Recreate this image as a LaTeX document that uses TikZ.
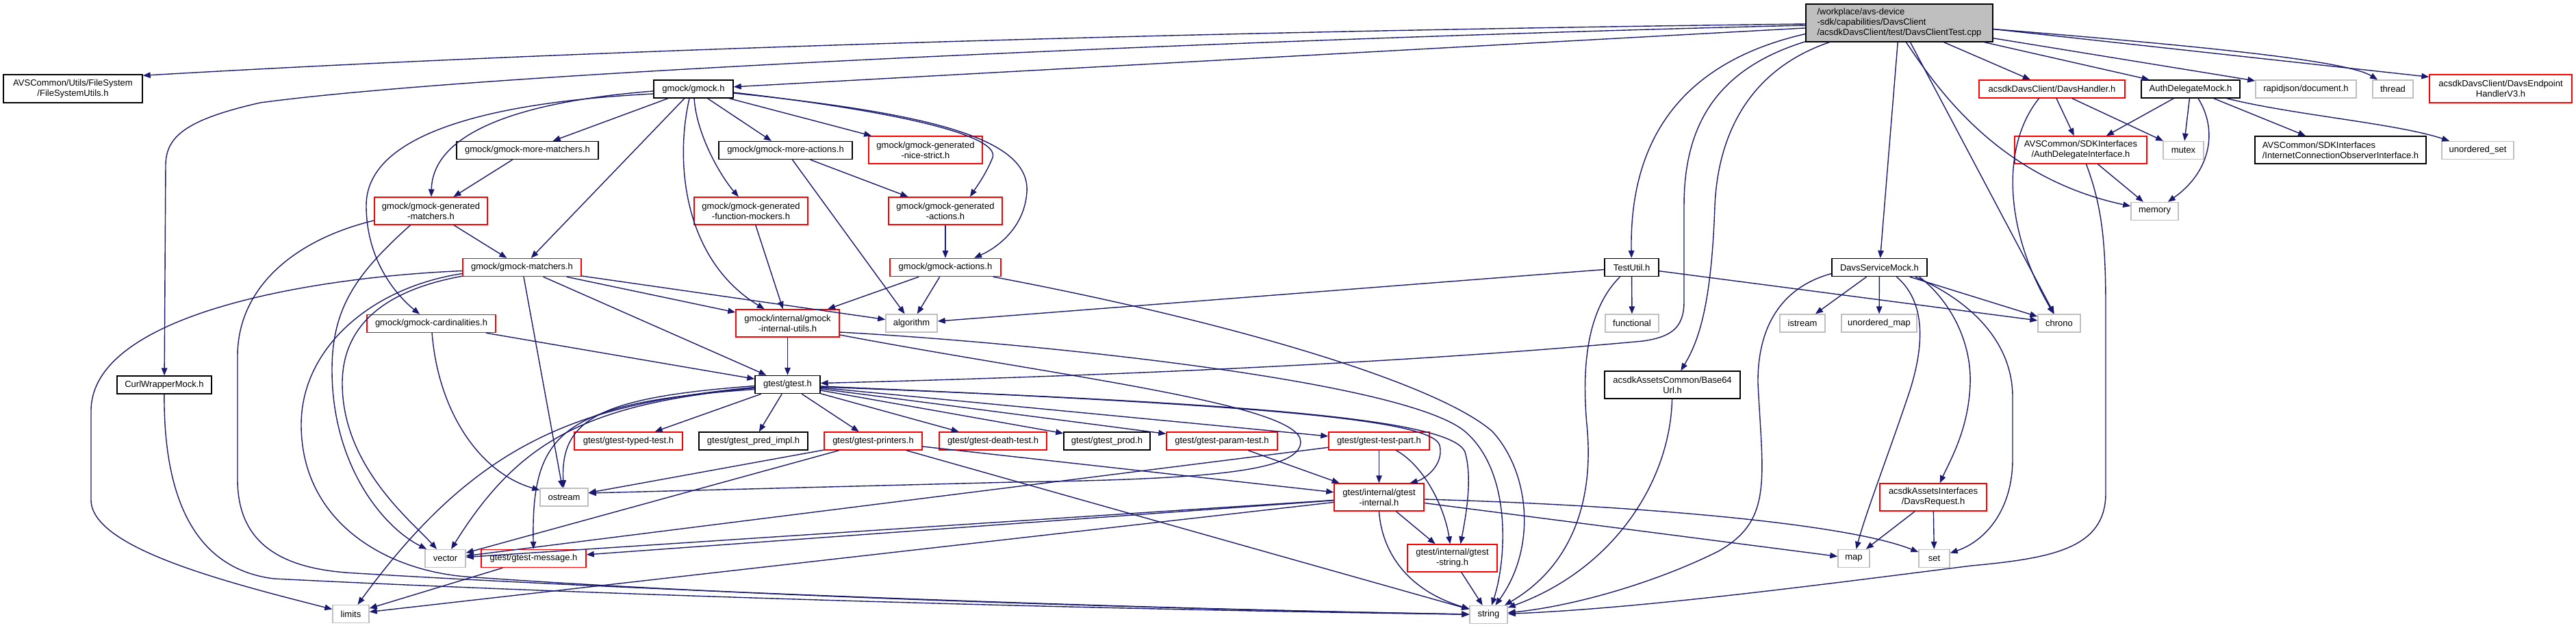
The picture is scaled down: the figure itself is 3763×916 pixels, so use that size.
\documentclass[tikz,border=0pt]{standalone}
\usepackage{fontspec}
\setmainfont{Liberation Sans}
\usetikzlibrary{arrows.meta,calc}
\definecolor{ec}{HTML}{191970}
\definecolor{gr}{HTML}{BFBFBF}
\definecolor{rd}{HTML}{FF0000}
\begin{document}
\begin{tikzpicture}[x=1pt,y=-1pt,
  nd/.style={draw, line width=1.4pt, inner sep=0pt, fill=white, text=black,
     font={\fontsize{13pt}{15pt}\selectfont}, align=center},
  rn/.style={nd, draw=rd},
  bn/.style={nd, draw=black},
  gn/.style={nd, draw=gr},
  sz/.style 2 args={minimum width=#1pt, minimum height=#2pt},
  ed/.style={draw=ec, line width=1.4pt, -{Triangle[length=11pt,width=8.5pt]}}]
\useasboundingbox (0,0) rectangle (3763,916);
\fill[white] (0,0) rectangle (3763,916);
% ---------------- nodes ----------------
\node[bn, fill=gr, sz={273}{55}, align=left] (M) at (2774.5,33.5) {/workplace/avs-device\\-sdk/capabilities/DavsClient\\/acsdkDavsClient/test/DavsClientTest.cpp};
\node[bn, sz={203}{41}] (FSU) at (106.5,129.5) {AVSCommon/Utils/FileSystem\\/FileSystemUtils.h};
\node[bn, sz={116}{26}] (gmockh) at (1013,130) {gmock/gmock.h};
\node[rn, sz={213}{26}] (dh) at (2997.5,130) {acsdkDavsClient/DavsHandler.h};
\node[bn, sz={144}{26}] (adm) at (3200,130) {AuthDelegateMock.h};
\node[gn, sz={147}{26}] (rj) at (3368.5,130) {rapidjson/document.h};
\node[gn, sz={59}{26}] (thread) at (3495.5,130) {thread};
\node[rn, sz={208}{41}] (ep) at (3653,129.5) {acsdkDavsClient/DavsEndpoint\\HandlerV3.h};
\node[bn, sz={207}{26}] (moremat) at (770.5,219.5) {gmock/gmock-more-matchers.h};
\node[bn, sz={195}{26}] (moreact) at (1147.5,219.5) {gmock/gmock-more-actions.h};
\node[rn, sz={166}{40}] (nice) at (1352,219) {gmock/gmock-generated\\-nice-strict.h};
\node[rn, sz={193}{40}] (adi) at (3039.5,219) {AVSCommon/SDKInterfaces\\/AuthDelegateInterface.h};
\node[gn, sz={59}{26}] (mutex) at (3189.5,219.5) {mutex};
\node[bn, sz={250}{40}, align=left] (icoi) at (3419,219) {AVSCommon/SDKInterfaces\\/InternetConnectionObserverInterface.h};
\node[gn, sz={105}{26}] (uset) at (3619.5,219.5) {unordered\_set};
\node[rn, sz={165}{40}] (genmat) at (629.5,308) {gmock/gmock-generated\\-matchers.h};
\node[rn, sz={166}{40}] (funcmock) at (1097,308) {gmock/gmock-generated\\-function-mockers.h};
\node[rn, sz={166}{40}] (genact) at (1381,308) {gmock/gmock-generated\\-actions.h};
\node[gn, sz={69}{26}] (memory) at (3147.5,308.5) {memory};
\node[rn, sz={173}{26}] (gmat) at (762.5,390.5) {gmock/gmock-matchers.h};
\node[rn, sz={162}{26}] (gact) at (1381,390.5) {gmock/gmock-actions.h};
\node[bn, sz={79}{26}] (testutil) at (2383.5,390.5) {TestUtil.h};
\node[bn, sz={139}{26}] (dsm) at (2745.5,390.5) {DavsServiceMock.h};
\node[rn, sz={188}{26}] (card) at (630,472.5) {gmock/gmock-cardinalities.h};
\node[rn, sz={151}{40}] (giu) at (1150.5,472) {gmock/internal/gmock\\-internal-utils.h};
\node[gn, sz={75}{26}] (algo) at (1331.5,472) {algorithm};
\node[gn, sz={78}{26}] (func) at (2384,472) {functional};
\node[gn, sz={66}{26}] (istream) at (2633,472) {istream};
\node[gn, sz={110}{26}] (umap) at (2745,472) {unordered\_map};
\node[gn, sz={62}{26}] (chrono) at (3008,472) {chrono};
\node[bn, sz={138}{26}] (curl) at (240,562) {CurlWrapperMock.h};
\node[bn, sz={95}{26}] (gtesth) at (1150.5,561.5) {gtest/gtest.h};
\node[bn, sz={198}{40}] (b64) at (2443,562) {acsdkAssetsCommon/Base64\\Url.h};
\node[rn, sz={158}{26}] (typed) at (918,644) {gtest/gtest-typed-test.h};
\node[bn, sz={159}{26}] (pred) at (1100.5,644) {gtest/gtest\_pred\_impl.h};
\node[rn, sz={143}{26}] (printers) at (1275.5,644) {gtest/gtest-printers.h};
\node[rn, sz={157}{26}] (death) at (1450.5,644) {gtest/gtest-death-test.h};
\node[bn, sz={126}{26}] (prod) at (1617,644) {gtest/gtest\_prod.h};
\node[rn, sz={162}{26}] (param) at (1785,644) {gtest/gtest-param-test.h};
\node[rn, sz={147}{26}] (testpart) at (2014.5,644) {gtest/gtest-test-part.h};
\node[gn, sz={70}{26}] (ostream) at (824,726) {ostream};
\node[rn, sz={131}{40}] (gint) at (2014.5,726) {gtest/internal/gtest\\-internal.h};
\node[rn, sz={156}{40}] (dreq) at (2824,726) {acsdkAssetsInterfaces\\/DavsRequest.h};
\node[gn, sz={59}{26}] (vector) at (650.5,815.5) {vector};
\node[rn, sz={153}{26}] (gmsg) at (779.5,815.5) {gtest/gtest-message.h};
\node[rn, sz={131}{40}] (gstr) at (2121.5,815) {gtest/internal/gtest\\-string.h};
\node[gn, sz={46}{26}] (map) at (2708,815.5) {map};
\node[gn, sz={45}{26}] (set) at (2825.5,815.5) {set};
\node[gn, sz={53}{26}] (limits) at (512.5,896.5) {limits};
\node[gn, sz={55}{26}] (string) at (2174.5,897.5) {string};
% ---------------- edges: main file ----------------
\draw[ed] ($(M.west)+(0,1.5)$) .. controls (1800,45) and (900,70) .. ($(FSU.north east)+(0,2)$);
\draw[ed] ($(M.west)+(0,3.5)$) .. controls (2000,52) and (750,100) .. (380,150) .. controls (270,175) and (243,200) .. (242,240) -- (curl);
\draw[ed] (M) -- (gmockh);
\draw[ed] ($(M.west)+(0,16)$) .. controls (2460,90) and (2380,200) .. (testutil);
\draw[ed] ($(M.south west)+(0,-1)$) .. controls (2510,100) and (2460,180) .. (2460,300) -- (2460,440) .. controls (2460,480) and (2440,492) .. (2400,498) .. controls (2000,535) and (1500,552) .. ($(gtesth.east)+(0,-2)$);
\draw[ed] ($(M.south west)+(35,0)$) .. controls (2560,100) and (2510,190) .. (2505,300) .. controls (2500,450) and (2480,500) .. (b64);
\draw[ed] (M) -- (dsm);
\draw[ed] (M) -- (dh);
\draw[ed] (M) -- (adm);
\draw[ed] (M) -- (rj);
\draw[ed] ($(M.east)+(0,9)$) .. controls (3250,70) and (3430,90) .. (thread);
\draw[ed] ($(M.east)+(0,9)$) -- ($(ep.north west)+(0,4)$);
\draw[ed] ($(M.south)+(10,0)$) .. controls (2830,130) and (2920,260) .. (memory);
\draw[ed] ($(M.south)+(16,0)$) -- (chrono);
% ---------------- gmock.h ----------------
\draw[ed] (gmockh) -- (moremat);
\draw[ed] ($(gmockh.west)+(0,3)$) .. controls (740,150) and (632,200) .. (genmat);
\draw[ed] ($(gmockh.west)+(0,7)$) .. controls (700,150) and (535,200) .. (535,300) .. controls (535,390) and (590,440) .. (card);
\draw[ed] (gmockh) -- (gmat);
\draw[ed] (gmockh) -- (moreact);
\draw[ed] (gmockh) -- (nice);
\draw[ed] ($(gmockh.south)+(1,0)$) .. controls (1018,200) and (1055,260) .. (funcmock);
\draw[ed] ($(gmockh.south)+(-6,0)$) .. controls (985,240) and (1000,380) .. (giu);
\draw[ed] ($(gmockh.east)+(0,5)$) .. controls (1330,165) and (1460,200) .. (1450,230) .. controls (1440,255) and (1425,275) .. ($(genact.north)+(36,0)$);
\draw[ed] ($(gmockh.east)+(0,6)$) .. controls (1350,165) and (1505,200) .. (1500,280) .. controls (1497,330) and (1460,360) .. ($(gact.north)+(42,0)$);
% ---------------- gmock internals ----------------
\draw[ed] (moremat) -- (genmat);
\draw[ed] (genmat) -- (gmat);
\draw[ed] ($(genmat.west)+(0,14)$) .. controls (430,350) and (347,420) .. (347,520) -- (347,700) .. controls (347,800) and (420,832) .. (520,837) .. controls (900,860) and (1600,888) .. (string);
\draw[ed] ($(genmat.south)+(-30,0)$) .. controls (520,400) and (485,450) .. (485,540) .. controls (485,680) and (560,770) .. (vector);
\draw[ed] ($(gmat.west)+(0,5)$) .. controls (450,405) and (133,460) .. (133,600) -- (133,730) .. controls (133,800) and (330,850) .. (limits);
\draw[ed] ($(gmat.west)+(0,9)$) .. controls (540,420) and (440,510) .. (440,620) .. controls (440,760) and (560,832) .. (680,842) .. controls (1100,872) and (1700,889) .. (string);
\draw[ed] ($(gmat.south west)+(0,-1)$) .. controls (555,425) and (500,480) .. (500,560) .. controls (500,680) and (600,760) .. (vector);
\draw[ed] (gmat) -- (ostream);
\draw[ed] (gmat) -- (gtesth);
\draw[ed] (gmat) -- (giu);
\draw[ed] (gmat) -- (algo);
\draw[ed] (card) .. controls (640,600) and (700,690) .. (ostream);
\draw[ed] (card) -- (gtesth);
\draw[ed] (moreact) -- (genact);
\draw[ed] (moreact) -- (algo);
\draw[ed] (genact) -- (gact);
\draw[ed] (funcmock) -- (giu);
\draw[ed] (gact) -- (giu);
\draw[ed] (gact) -- (algo);
\draw[ed] ($(gact.south east)+(-12,0)$) .. controls (1800,470) and (2100,560) .. (2180,630) .. controls (2235,690) and (2245,800) .. (string);
\draw[ed] (giu) -- (gtesth);
\draw[ed] ($(giu.east)+(0,13)$) .. controls (1500,500) and (2050,555) .. (2140,630) .. controls (2210,690) and (2200,820) .. (string);
\draw[ed] ($(giu.east)+(0,17)$) .. controls (1550,550) and (1900,590) .. (1900,645) .. controls (1900,690) and (1750,700) .. (1480,704) -- ($(ostream.east)+(0,-6)$);
% ---------------- gtest.h ----------------
\draw[ed] (gtesth) -- (typed);
\draw[ed] (gtesth) -- (pred);
\draw[ed] (gtesth) -- (printers);
\draw[ed] (gtesth) -- (death);
\draw[ed] (gtesth) -- (prod);
\draw[ed] (gtesth) -- (param);
\draw[ed] (gtesth) -- (testpart);
\draw[ed] ($(gtesth.east)+(0,2.5)$) .. controls (1800,590) and (2090,610) .. (2103,650) .. controls (2110,680) and (2080,700) .. ($(gint.north)+(45,0)$);
\draw[ed] ($(gtesth.east)+(0,3.5)$) .. controls (1800,588) and (2120,610) .. (2140,660) .. controls (2152,700) and (2140,760) .. ($(gstr.north)+(12,0)$);
\draw[ed] ($(gtesth.west)+(0,2)$) .. controls (880,580) and (818,610) .. (ostream);
\draw[ed] ($(gtesth.west)+(0,4)$) .. controls (850,590) and (700,640) .. (limits);
\draw[ed] ($(gtesth.west)+(0,5)$) .. controls (860,590) and (760,640) .. (vector);
\draw[ed] ($(gtesth.west)+(0,7)$) .. controls (820,588) and (776,630) .. (gmsg);
% ---------------- gtest internals ----------------
\draw[ed] (printers) -- (ostream);
\draw[ed] (printers) -- (vector);
\draw[ed] (printers) -- (string);
\draw[ed] (printers) -- (gint);
\draw[ed] (param) -- (gint);
\draw[ed] (testpart) -- (gint);
\draw[ed] (testpart) -- (vector);
\draw[ed] ($(testpart.south)+(25,0)$) .. controls (2080,680) and (2110,740) .. (gstr);
\draw[ed] (gint) -- (vector);
\draw[ed] (gint) -- (gmsg);
\draw[ed] (gint) -- (limits);
\draw[ed] (gint) -- (gstr);
\draw[ed] (gint) -- (map);
\draw[ed] (gint.south) .. controls (2018,800) and (2050,860) .. (string);
\draw[ed] ($(gint.east)+(0,3)$) .. controls (2400,738) and (2700,765) .. (set);
\draw[ed] (gstr) -- (string);
\draw[ed] (gmsg) -- (limits);
\draw[ed] (curl) .. controls (239,720) and (280,830) .. (400,845) .. controls (900,870) and (1600,890) .. (string);
% ---------------- right part ----------------
\draw[ed] (testutil) -- (algo);
\draw[ed] (testutil) -- (func);
\draw[ed] (testutil) -- (chrono);
\draw[ed] ($(testutil.south)+(-17,0)$) .. controls (2320,450) and (2310,530) .. (2318,620) .. controls (2330,740) and (2290,830) .. (string);
\draw[ed] (dsm) -- (istream);
\draw[ed] (dsm) -- (umap);
\draw[ed] (dsm) -- (chrono);
\draw[ed] ($(dsm.west)+(0,9)$) .. controls (2600,420) and (2567,480) .. (2568,560) .. controls (2575,700) and (2590,760) .. (2510,805) .. controls (2420,850) and (2300,885) .. (string);
\draw[ed] ($(dsm.south)+(25,0)$) .. controls (2812,440) and (2812,500) .. (2790,570) .. controls (2760,660) and (2725,750) .. (map);
\draw[ed] ($(dsm.south east)+(-18,0)$) .. controls (2880,440) and (2940,500) .. (2940,580) -- (2940,670) .. controls (2940,745) and (2900,790) .. (set);
\draw[ed] ($(dsm.south east)+(-12,0)$) .. controls (2850,440) and (2880,500) .. (2878,560) .. controls (2876,625) and (2850,670) .. (dreq);
\draw[ed] (dreq) -- (map);
\draw[ed] (dreq) -- (set);
\draw[ed] (b64) .. controls (2440,700) and (2360,830) .. (string);
\draw[ed] (dh) -- (adi);
\draw[ed] (dh) -- (mutex);
\draw[ed] ($(dh.south)+(-19,0)$) .. controls (2925,210) and (2925,330) .. (chrono);
\draw[ed] (adm) -- (adi);
\draw[ed] (adm) -- (mutex);
\draw[ed] (adm) -- (icoi);
\draw[ed] ($(adm.south)+(11,0)$) .. controls (3240,190) and (3230,250) .. (memory);
\draw[ed] ($(adm.south east)+(-20,0)$) .. controls (3350,168) and (3500,180) .. (uset);
\draw[ed] (adi) -- (memory);
\draw[ed] ($(adi.south)+(8,0)$) .. controls (3070,300) and (3076,350) .. (3076,450) -- (3076,720) .. controls (3076,800) and (3000,815) .. (2880,826) .. controls (2650,855) and (2400,888) .. (string);
\end{tikzpicture}
\end{document}
